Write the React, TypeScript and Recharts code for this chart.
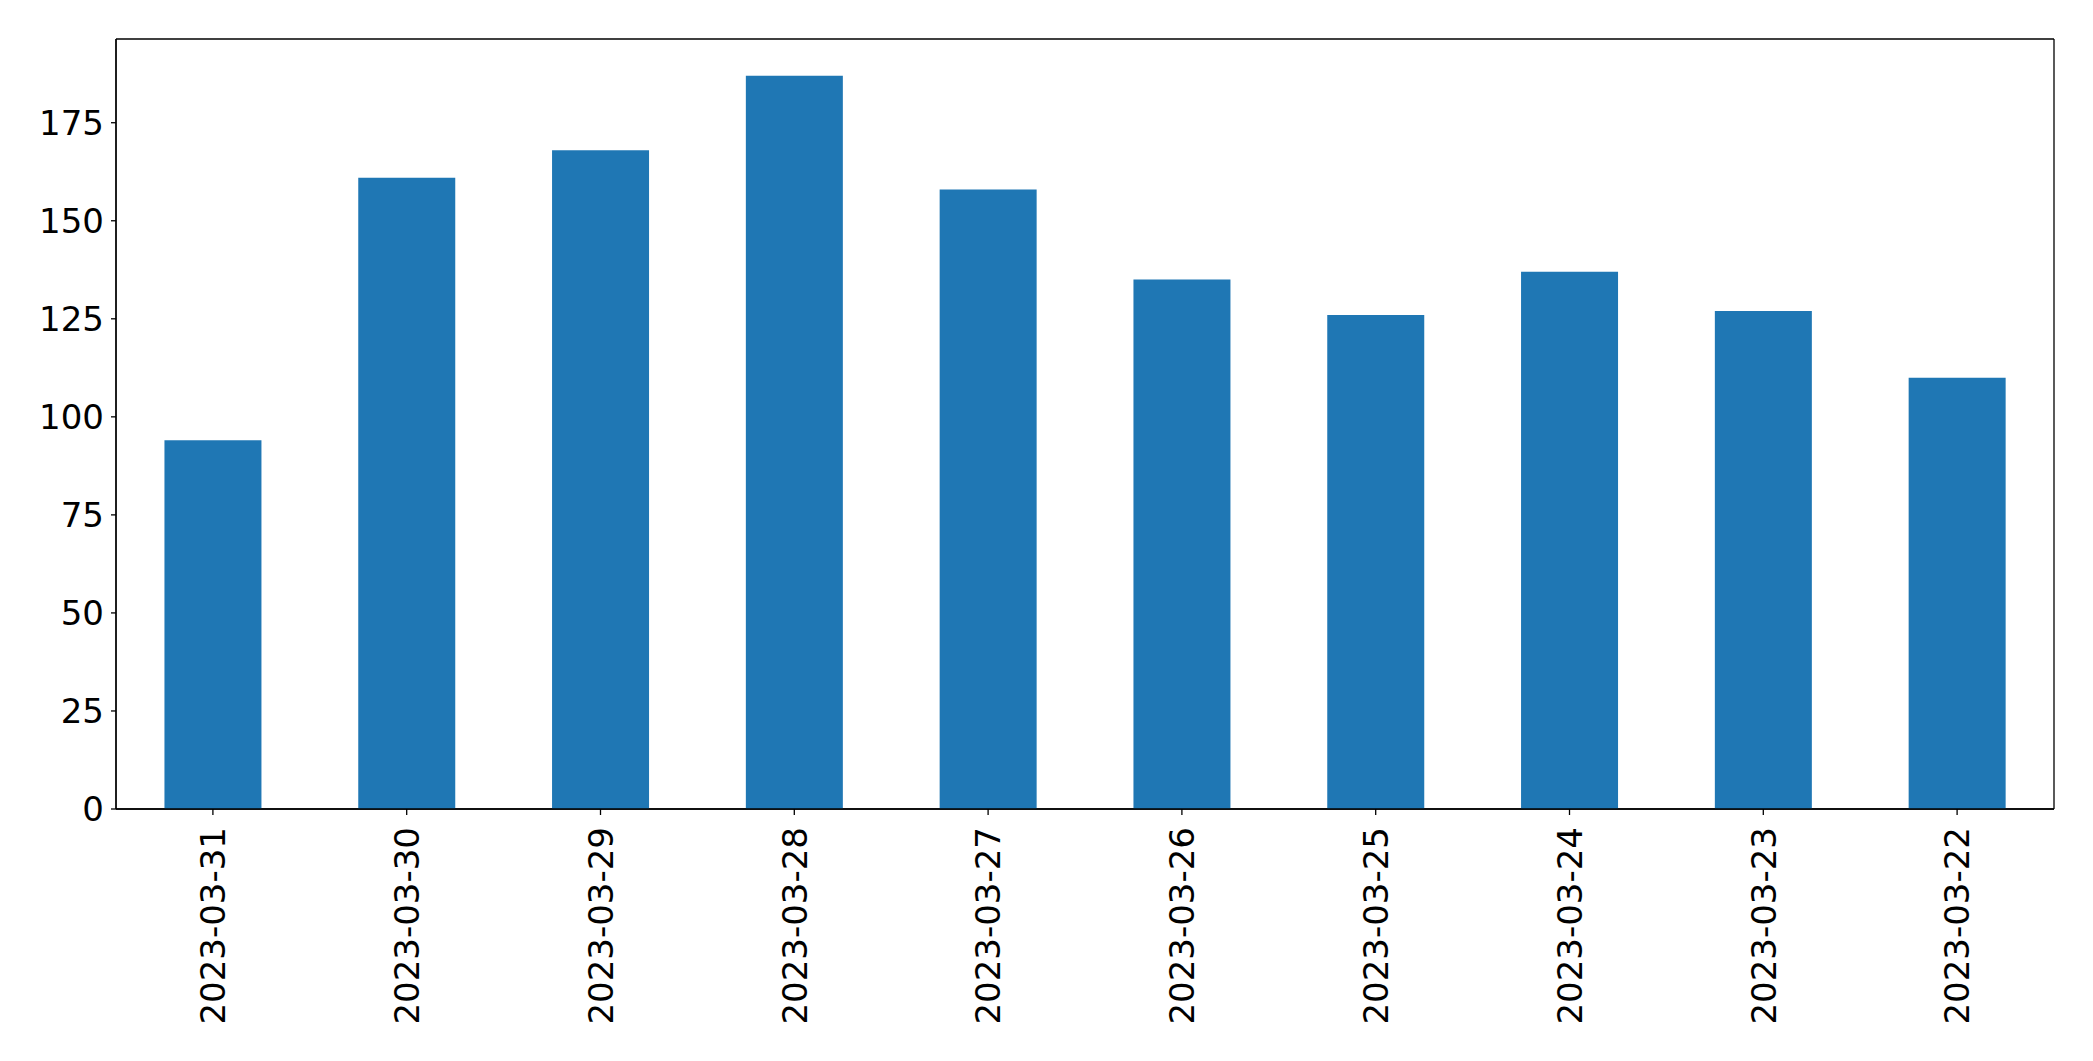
import { Bar, BarChart, CartesianGrid, XAxis, YAxis } from "recharts"

const dates = [
  "2023-03-31",
  "2023-03-30",
  "2023-03-29",
  "2023-03-28",
  "2023-03-27",
  "2023-03-26",
  "2023-03-25",
  "2023-03-24",
  "2023-03-23",
  "2023-03-22",
]
const counts = [94, 161, 168, 187, 158, 135, 126, 137, 127, 110]
const yTicks = [0, 25, 50, 75, 100, 125, 150, 175]

const chartData = dates.map((date, i) => ({ date, count: counts[i] }))
const yMax = Math.max(...counts) * 1.05

const FONT = "DejaVu Sans"
const FONT_SIZE = 34

const DateTick = (props: any) => {
  const { x, y, payload } = props
  return (
    <text
      x={x}
      y={y}
      dy="0.36em"
      transform={`rotate(-90, ${x}, ${y})`}
      textAnchor="end"
      fontFamily={FONT}
      fontSize={FONT_SIZE}
      fill="#000"
    >
      {payload.value}
    </text>
  )
}

// frame around the plot area (matplotlib spines)
const frameRows = ({ offset }: any) => [offset.top, offset.top + offset.height]
const frameCols = ({ offset }: any) => [offset.left, offset.left + offset.width]

export default function App() {
  return (
    <div style={{ position: "absolute", left: 0, top: 0, background: "#fff" }}>
      <BarChart
        width={2093}
        height={1061}
        data={chartData}
        margin={{ top: 39, right: 39, left: 0, bottom: 0 }}
        barCategoryGap="25%"
      >
        <CartesianGrid
          stroke="#000"
          strokeWidth={1.3}
          horizontalCoordinatesGenerator={frameRows}
          verticalCoordinatesGenerator={frameCols}
        />
        <XAxis
          dataKey="date"
          height={252}
          interval={0}
          tick={<DateTick />}
          tickSize={6}
          tickMargin={12}
          axisLine={{ stroke: "#000", strokeWidth: 1.3 }}
          tickLine={{ stroke: "#000", strokeWidth: 1.3 }}
        />
        <YAxis
          width={116}
          domain={[0, yMax]}
          ticks={yTicks}
          tickSize={5}
          tickMargin={7}
          tick={{ fontFamily: FONT, fontSize: FONT_SIZE, fill: "#000" }}
          axisLine={{ stroke: "#000", strokeWidth: 1.3 }}
          tickLine={{ stroke: "#000", strokeWidth: 1.3 }}
        />
        <Bar dataKey="count" fill="#1f77b4" isAnimationActive={false} />
      </BarChart>
    </div>
  )
}
